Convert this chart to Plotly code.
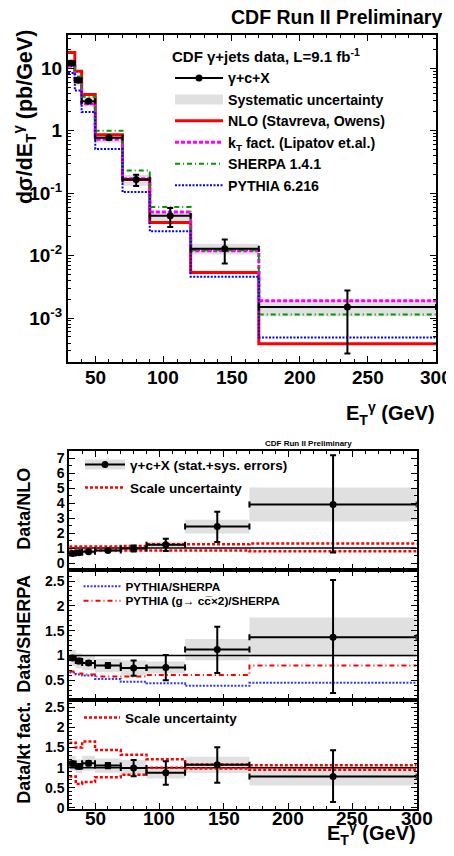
import plotly.graph_objects as go

# ---------------- data ----------------
bin_edges = [30, 35, 40, 50, 70, 90, 120, 170, 300]
bin_centers = [32.5, 37.5, 45, 60, 80, 105, 145, 235]

data_xsec = [12.0, 6.4, 2.96, 0.77, 0.165, 0.0436, 0.0129, 0.00151]
err_up_rel = [0.04, 0.05, 0.05, 0.06, 0.20, 0.33, 0.41, 0.84]
err_dn_rel = [0.04, 0.05, 0.05, 0.06, 0.21, 0.34, 0.42, 0.82]
syst_rel = [0.17, 0.17, 0.17, 0.17, 0.20, 0.16, 0.19, 0.29]

nlo_xsec = [17.9, 8.96, 3.78, 0.86, 0.166, 0.034, 0.0054, 0.00039]
kt_xsec = [10.9, 6.2, 2.7, 0.73, 0.17, 0.050, 0.012, 0.0019]
sherpa_xsec = [12.9, 7.4, 3.5, 1.0, 0.23, 0.060, 0.0122, 0.00114]
pythia_xsec = [8.4, 4.4, 2.0, 0.51, 0.104, 0.0245, 0.0046, 0.00049]

ratio_nlo = [0.64, 0.69, 0.75, 0.84, 0.97, 1.22, 2.43, 3.91]
nlo_scale_up = [1.10, 1.10, 1.10, 1.10, 1.14, 1.25, 1.25, 1.30]
nlo_scale_dn = [0.84, 0.84, 0.84, 0.84, 0.84, 0.84, 0.84, 0.78]

ratio_sherpa = [0.95, 0.89, 0.85, 0.80, 0.75, 0.76, 1.12, 1.37]
pythia_over_sherpa = [0.66, 0.62, 0.60, 0.53, 0.47, 0.44, 0.39, 0.45]
pythia2_over_sherpa = [0.68, 0.64, 0.62, 0.58, 0.58, 0.61, 0.61, 0.80]

ratio_kt = [1.10, 1.03, 1.11, 1.05, 0.99, 0.87, 1.07, 0.78]
kt_scale_up = [1.62, 1.50, 1.65, 1.44, 1.32, 1.21, 1.08, 1.06]
kt_scale_dn = [0.78, 0.59, 0.64, 0.76, 0.82, 1.00, 0.98, 0.95]

x_ticks = [50, 100, 150, 200, 250, 300]
log_ticks = [1e-3, 1e-2, 1e-1, 1, 10]
log_tick_text = ["10<sup>-3</sup>", "10<sup>-2</sup>", "10<sup>-1</sup>", "1", "10"]

# ---------------- helpers ----------------
# The page body keeps the browser's default 8px margin; the figure is sized to
# reach the right and bottom edges of the 454x856 window, positions below are
# given in window pixels.
OFF = 8
W, H = 454 - OFF, 856 - OFF
FONT = "Liberation Sans, Arial, Helvetica, sans-serif"
GRAY = "#e0e0e0"


def px(x):
    return (x - OFF) / W


def py(y):
    return 1 - (y - OFF) / H


half_w = [(bin_edges[i + 1] - bin_edges[i]) / 2 for i in range(len(bin_centers))]
widths = [bin_edges[i + 1] - bin_edges[i] for i in range(len(bin_centers))]


def step(v):
    return list(v) + [v[-1]]


def bfont(size, color="black"):
    return dict(family=FONT, size=size, color=color, weight="bold")


fig = go.Figure()


def add_band(center, axes):
    lo = [c * (1 - s) for c, s in zip(center, syst_rel)]
    hi = [c * (1 + s) for c, s in zip(center, syst_rel)]
    fig.add_trace(go.Bar(x=bin_centers, y=[h - l for h, l in zip(hi, lo)], base=lo,
                         width=widths, marker=dict(color=GRAY, line=dict(width=0)),
                         showlegend=False, xaxis=axes[0], yaxis=axes[1], hoverinfo="skip"))


def add_data(center, axes):
    fig.add_trace(go.Scatter(
        x=bin_centers, y=center, mode="markers",
        marker=dict(color="black", size=7),
        error_y=dict(type="data", symmetric=False,
                     array=[c * e for c, e in zip(center, err_up_rel)],
                     arrayminus=[c * e for c, e in zip(center, err_dn_rel)],
                     color="black", thickness=2, width=3),
        error_x=dict(type="data", array=half_w, color="black", thickness=2, width=3),
        showlegend=False, xaxis=axes[0], yaxis=axes[1]))


def add_step(vals, axes, color, dash, width, name=None, legend=None):
    fig.add_trace(go.Scatter(
        x=bin_edges, y=step(vals), mode="lines", line=dict(shape="hv", color=color, dash=dash, width=width),
        name=name if name else "", showlegend=name is not None,
        legend=legend if legend else "legend", xaxis=axes[0], yaxis=axes[1]))


def add_one(axes):
    fig.add_trace(go.Scatter(x=[bin_edges[0], bin_edges[-1]], y=[1, 1], mode="lines",
                             line=dict(color="black", width=1.5), showlegend=False,
                             xaxis=axes[0], yaxis=axes[1]))


# ---------------- top panel ----------------
A1 = ("x", "y")
add_band(data_xsec, A1)
# legend-only entries
fig.add_trace(go.Scatter(x=[None], y=[None], mode="lines+markers", name="γ+c+X",
                         line=dict(color="black", width=2), marker=dict(color="black", size=7),
                         legend="legend", xaxis="x", yaxis="y"))
fig.add_trace(go.Scatter(x=[None], y=[None], mode="lines", name="Systematic uncertainty",
                         line=dict(color=GRAY, width=14), legend="legend", xaxis="x", yaxis="y"))
add_step(nlo_xsec, A1, "#ff0000", "solid", 3, "NLO (Stavreva, Owens)")
add_step(kt_xsec, A1, "#ff00ff", "4px,2px", 3, "k<sub>T</sub> fact. (Lipatov et.al.)")
add_step(sherpa_xsec, A1, "#009900", "5px,3px,1px,3px", 2, "SHERPA 1.4.1")
add_step(pythia_xsec, A1, "#0000ff", "2px,1.5px", 2, "PYTHIA 6.216")
add_data(data_xsec, A1)

# ---------------- Data/NLO ----------------
A2 = ("x2", "y2")
add_band(ratio_nlo, A2)
add_one(A2)
add_step(nlo_scale_up, A2, "#ff0000", "3px,2px", 2.5, "Scale uncertainty", "legend4")
add_step(nlo_scale_dn, A2, "#ff0000", "3px,2px", 2.5)
add_data(ratio_nlo, A2)
fig.add_trace(go.Scatter(x=[None], y=[None], mode="lines", name=" ",
                         line=dict(color=GRAY, width=14), legend="legend2", xaxis="x2", yaxis="y2"))
fig.add_trace(go.Scatter(x=[None], y=[None], mode="lines+markers", name="γ+c+X (stat.+sys. errors)",
                         line=dict(color="black", width=2), marker=dict(color="black", size=7),
                         legend="legend3", xaxis="x2", yaxis="y2"))

# ---------------- Data/SHERPA ----------------
A3 = ("x3", "y3")
add_band(ratio_sherpa, A3)
add_one(A3)
add_step(pythia_over_sherpa, A3, "#3333ff", "2px,1.5px", 2, "PYTHIA/SHERPA", "legend5")
add_step(pythia2_over_sherpa, A3, "#ff0000", "5px,3px,1px,3px", 2, "PYTHIA (g→ cc\u0305×2)/SHERPA", "legend6")
add_data(ratio_sherpa, A3)

# ---------------- Data/kt fact. ----------------
A4 = ("x4", "y4")
add_band(ratio_kt, A4)
add_one(A4)
add_step(kt_scale_up, A4, "#ff0000", "3px,2px", 2.5, "Scale uncertainty", "legend7")
add_step(kt_scale_dn, A4, "#ff0000", "3px,2px", 2.5)
add_data(ratio_kt, A4)

# ---------------- axes ----------------
def axis(domain, anchor, rng, **kw):
    d = dict(domain=domain, anchor=anchor, range=rng, showline=True, linecolor="black", linewidth=2,
             mirror="allticks", ticks="inside", ticklen=6, tickwidth=1, tickcolor="black",
             showgrid=False, zeroline=False, tickfont=bfont(19))
    d.update(kw)
    return d


top_x = [px(68), px(436)]
low_x = [px(69.3), px(416.7)]
minor_x = dict(ticks="inside", ticklen=3, tickwidth=1, tickcolor="black", dtick=10, tick0=0, showgrid=False)

log_minor = [k * 10 ** e for e in range(-4, 2) for k in range(2, 10)]

fig.update_layout(
    width=W, height=H, autosize=False, margin=dict(l=0, r=0, t=0, b=0),
    paper_bgcolor="white", plot_bgcolor="white", barmode="overlay",
    xaxis=axis(top_x, "y", [30, 300], tickmode="array", tickvals=x_ticks, minor=minor_x,
               showticklabels=False),
    yaxis=axis([py(364), py(34)], "x", [-3.703, 1.535], type="log", tickmode="array",
               tickvals=log_ticks, ticktext=log_tick_text,
               minor=dict(ticks="inside", ticklen=3, tickwidth=1, tickcolor="black",
                          tickmode="array", tickvals=log_minor, showgrid=False)),
    xaxis2=axis(low_x, "y2", [30, 300], tickmode="array", tickvals=x_ticks, showticklabels=False,
                minor=minor_x),
    yaxis2=axis([py(573.3), py(453.3)], "x2", [-0.44, 7.5], tickmode="array",
                tickvals=[0, 1, 2, 3, 4, 5, 6, 7], tickfont=bfont(14),
                minor=dict(ticks="inside", ticklen=3, tickwidth=1, tickcolor="black", dtick=0.5, tick0=0)),
    xaxis3=axis(low_x, "y3", [30, 300], tickmode="array", tickvals=x_ticks, showticklabels=False,
                minor=minor_x),
    yaxis3=axis([py(705), py(573.3)], "x3", [0.1, 2.73], tickmode="array",
                tickvals=[0.5, 1, 1.5, 2, 2.5], ticktext=["0.5", "1", "1.5", "2", "2.5"],
                tickfont=bfont(14),
                minor=dict(ticks="inside", ticklen=3, tickwidth=1, tickcolor="black", dtick=0.1, tick0=0)),
    xaxis4=axis(low_x, "y4", [30, 300], tickmode="array", tickvals=x_ticks, minor=minor_x,
                showticklabels=False),
    yaxis4=axis([py(815), py(705)], "x4", [-0.04, 2.68], tickmode="array",
                tickvals=[0, 0.5, 1, 1.5, 2, 2.5], ticktext=["0", "0.5", "1", "1.5", "2", "2.5"],
                tickfont=bfont(14),
                minor=dict(ticks="inside", ticklen=3, tickwidth=1, tickcolor="black", dtick=0.1, tick0=0)),
)

leg_common = dict(bgcolor="rgba(0,0,0,0)", borderwidth=0, xanchor="left", yanchor="top",
                  traceorder="normal")
fig.update_layout(
    legend=dict(x=px(170), y=py(42), font=bfont(14.2), itemwidth=48,
                title=dict(text="CDF γ+jets data, L=9.1 fb<sup>-1</sup>", font=bfont(15)), **leg_common),
    legend2=dict(x=px(80), y=py(452), font=bfont(13.5), itemwidth=40, **leg_common),
    legend3=dict(x=px(80), y=py(452), font=bfont(13.5), itemwidth=40, **leg_common),
    legend4=dict(x=px(80), y=py(475), font=bfont(13.5), itemwidth=40, **leg_common),
    legend5=dict(x=px(78.5), y=py(575.5), font=bfont(11.8), itemwidth=37, **leg_common),
    legend6=dict(x=px(78.5), y=py(590), font=bfont(11.8), itemwidth=37, **leg_common),
    legend7=dict(x=px(79), y=py(707), font=bfont(13.5), itemwidth=36, **leg_common),
)

ann = [
    dict(text="CDF Run II Preliminary", x=px(444), y=py(16), xanchor="right", yanchor="middle",
         font=bfont(19.5)),
    dict(text="dσ/dE<sub>T</sub><sup>γ</sup> (pb/GeV)", x=px(24), y=py(117), xanchor="center",
         yanchor="middle", textangle=-90, font=bfont(21.5)),
    dict(text="E<sub>T</sub><sup>γ</sup> (GeV)", x=px(437), y=py(432), xanchor="right",
         yanchor="bottom", font=bfont(20)),
    dict(text="CDF Run II Preliminary", x=px(308), y=py(446), xanchor="center", yanchor="middle",
         font=bfont(8)),
    dict(text="Data/NLO", x=px(24), y=py(512), xanchor="center", yanchor="middle", textangle=-90,
         font=bfont(18)),
    dict(text="Data/SHERPA", x=px(24), y=py(638), xanchor="center", yanchor="middle", textangle=-90,
         font=bfont(18)),
    dict(text="Data/kt fact.", x=px(24), y=py(758), xanchor="center", yanchor="middle", textangle=-90,
         font=bfont(18)),
    dict(text="E<sub>T</sub><sup>γ</sup> (GeV)", x=px(418), y=py(856), xanchor="right",
         yanchor="bottom", font=bfont(20)),
]
for a in ann:
    a.update(xref="paper", yref="paper", showarrow=False)
# x tick labels placed at the tick values of the top and bottom x axes
for t in x_ticks:
    ann.append(dict(text=str(t), x=t, xref="x", y=py(367), yref="paper", xanchor="center",
                    yanchor="top", showarrow=False, font=bfont(19)))
    ann.append(dict(text=str(t), x=t, xref="x4", y=py(812), yref="paper", xanchor="center",
                    yanchor="top", showarrow=False, font=bfont(19)))
fig.update_layout(annotations=ann)

fig.write_html("out.html", config={"responsive": False})
